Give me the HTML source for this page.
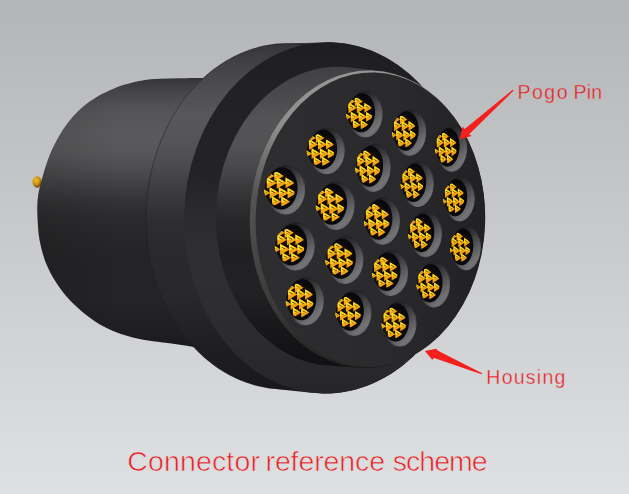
<!DOCTYPE html>
<html><head><meta charset="utf-8"><title>Connector reference scheme</title>
<style>
html,body{margin:0;padding:0;background:#c9cacb;}
body{width:629px;height:494px;overflow:hidden;position:relative;font-family:"Liberation Sans",sans-serif;}
svg{position:absolute;left:0;top:0;display:block;}
.t{position:absolute;color:#ec1c24;white-space:nowrap;line-height:1;}
.s{font-size:19.5px;}
.b{font-size:28.5px;top:447px;-webkit-text-stroke:0.7px #dcddde;}
</style></head><body>
<svg width="629" height="494" viewBox="0 0 629 494">
<defs>
<linearGradient id="bg" gradientUnits="userSpaceOnUse" x1="0" y1="0" x2="0" y2="494"><stop offset="0" stop-color="#b3b5b7"/><stop offset="1" stop-color="#dfe0e1"/></linearGradient>
<linearGradient id="gRear" gradientUnits="userSpaceOnUse" x1="0" y1="78" x2="0" y2="348"><stop offset="0.0" stop-color="#343436"/><stop offset="0.044444444444444446" stop-color="#444446"/><stop offset="0.11851851851851852" stop-color="#545456"/><stop offset="0.2111111111111111" stop-color="#5a5a5c"/><stop offset="0.2851851851851852" stop-color="#565658"/><stop offset="0.34074074074074073" stop-color="#4c4c4e"/><stop offset="0.3962962962962963" stop-color="#404042"/><stop offset="0.45185185185185184" stop-color="#343436"/><stop offset="0.5074074074074074" stop-color="#2c2c2e"/><stop offset="0.5814814814814815" stop-color="#272729"/><stop offset="0.674074074074074" stop-color="#242426"/><stop offset="0.8222222222222222" stop-color="#242426"/><stop offset="0.9518518518518518" stop-color="#1e1e20"/><stop offset="1.0" stop-color="#18181a"/></linearGradient>
<linearGradient id="gRearH" gradientUnits="userSpaceOnUse" x1="37" y1="0" x2="120" y2="0"><stop offset="0" stop-color="#000" stop-opacity="0.12"/><stop offset="1" stop-color="#000" stop-opacity="0"/></linearGradient>
<linearGradient id="gFl" gradientUnits="userSpaceOnUse" x1="0" y1="42" x2="0" y2="393"><stop offset="0.0" stop-color="#343436"/><stop offset="0.05128205128205128" stop-color="#404042"/><stop offset="0.13675213675213677" stop-color="#4e4e50"/><stop offset="0.21082621082621084" stop-color="#58585a"/><stop offset="0.2792022792022792" stop-color="#545456"/><stop offset="0.33618233618233617" stop-color="#4e4e50"/><stop offset="0.39316239316239315" stop-color="#424244"/><stop offset="0.45014245014245013" stop-color="#38383a"/><stop offset="0.5071225071225072" stop-color="#2e2e30"/><stop offset="0.5925925925925926" stop-color="#2a2a2c"/><stop offset="0.7350427350427351" stop-color="#28282a"/><stop offset="0.8490028490028491" stop-color="#202022"/><stop offset="1.0" stop-color="#18181a"/></linearGradient>
<linearGradient id="gBoss" gradientUnits="userSpaceOnUse" x1="0" y1="67" x2="0" y2="367"><stop offset="0.0" stop-color="#404042"/><stop offset="0.11" stop-color="#4c4c4e"/><stop offset="0.17666666666666667" stop-color="#545456"/><stop offset="0.26" stop-color="#525254"/><stop offset="0.32666666666666666" stop-color="#4a4a4c"/><stop offset="0.3933333333333333" stop-color="#3c3c3e"/><stop offset="0.46" stop-color="#2e2e30"/><stop offset="0.5266666666666666" stop-color="#262628"/><stop offset="0.6266666666666667" stop-color="#202022"/><stop offset="0.7433333333333333" stop-color="#222224"/><stop offset="0.8433333333333334" stop-color="#1a1a1c"/><stop offset="1.0" stop-color="#101012"/></linearGradient>
<linearGradient id="gFlFace" gradientUnits="userSpaceOnUse" x1="0" y1="42" x2="0" y2="393"><stop offset="0.0" stop-color="#1e1e20"/><stop offset="0.16524216524216523" stop-color="#222224"/><stop offset="0.39316239316239315" stop-color="#232325"/><stop offset="0.47863247863247865" stop-color="#2a2a2c"/><stop offset="0.5925925925925926" stop-color="#2f2f31"/><stop offset="0.7350427350427351" stop-color="#2e2e30"/><stop offset="0.8774928774928775" stop-color="#2b2b2d"/><stop offset="1.0" stop-color="#262628"/></linearGradient>
<linearGradient id="gFace" gradientUnits="userSpaceOnUse" x1="255" y1="0" x2="486" y2="0"><stop offset="0" stop-color="#2e2e30"/><stop offset="0.6" stop-color="#2a2a2c"/><stop offset="1" stop-color="#212123"/></linearGradient>
<linearGradient id="gCham" gradientUnits="userSpaceOnUse" x1="0" y1="70" x2="0" y2="370"><stop offset="0" stop-color="#969696"/><stop offset="0.2" stop-color="#8e8e8e"/><stop offset="0.3" stop-color="#727272"/><stop offset="0.42" stop-color="#555555"/><stop offset="0.6" stop-color="#484848"/><stop offset="0.8" stop-color="#3a3a3a"/><stop offset="1" stop-color="#202020"/></linearGradient>
<linearGradient id="gWall" x1="0.1" y1="0" x2="0.85" y2="1"><stop offset="0" stop-color="#141416"/><stop offset="0.35" stop-color="#303032"/><stop offset="0.6" stop-color="#525254"/><stop offset="0.85" stop-color="#747476"/><stop offset="1" stop-color="#5e5e60"/></linearGradient>
<linearGradient id="gRim" x1="0.1" y1="0" x2="0.9" y2="1"><stop offset="0" stop-color="#1a1a1c"/><stop offset="0.5" stop-color="#2c2c2e"/><stop offset="0.8" stop-color="#6a6a6c"/><stop offset="1" stop-color="#7c7c7e"/></linearGradient>
<radialGradient id="gPin" cx="0.4" cy="0.35" r="0.7"><stop offset="0" stop-color="#f0bc28"/><stop offset="0.5" stop-color="#d49410"/><stop offset="1" stop-color="#5a3800"/></radialGradient>
<clipPath id="cc"><ellipse cx="0" cy="0" rx="1.04" ry="1.04"/></clipPath>
<g id="crown"><ellipse cx="0" cy="0" rx="1.0" ry="1.0" fill="#140c02"/><g clip-path="url(#cc)"><path d="M-0.820,-1.025L-0.344,-0.780L-0.820,-0.535ZM-0.351,-1.113L0.295,-0.780L-0.351,-0.448ZM-0.856,-0.710L-0.176,-0.360L-0.856,-0.010ZM-0.186,-0.710L0.494,-0.360L-0.186,-0.010ZM0.407,-0.682L1.033,-0.360L0.407,-0.038ZM-1.051,0.030L-0.643,0.240L-1.051,0.450ZM-0.666,-0.110L0.014,0.240L-0.666,0.590ZM-0.046,-0.110L0.634,0.240L-0.046,0.590ZM0.547,-0.082L1.173,0.240L0.547,0.562ZM-0.497,0.445L0.115,0.760L-0.497,1.075ZM0.123,0.445L0.735,0.760L0.123,1.075Z" fill="#f2a314"/><path d="M-0.820,-1.025L-0.463,-0.841L-0.820,-0.743ZM-0.351,-1.113L0.133,-0.863L-0.351,-0.730ZM-0.856,-0.710L-0.346,-0.448L-0.856,-0.307ZM-0.186,-0.710L0.324,-0.448L-0.186,-0.307ZM0.407,-0.682L0.876,-0.441L0.407,-0.312ZM-1.051,0.030L-0.745,0.188L-1.051,0.271ZM-0.666,-0.110L-0.156,0.152L-0.666,0.292ZM-0.046,-0.110L0.464,0.152L-0.046,0.292ZM0.547,-0.082L1.016,0.159L0.547,0.288ZM-0.497,0.445L-0.038,0.681L-0.497,0.807ZM0.123,0.445L0.582,0.681L0.123,0.807Z" fill="#ffdc20"/><path d="M-0.734,-0.883L-0.558,-0.804L-0.582,-0.785L-0.749,-0.858ZM-0.235,-0.920L0.004,-0.813L-0.028,-0.787L-0.254,-0.886ZM-0.733,-0.507L-0.482,-0.395L-0.516,-0.367L-0.754,-0.472ZM-0.063,-0.507L0.188,-0.395L0.154,-0.367L-0.084,-0.472ZM0.520,-0.495L0.751,-0.392L0.720,-0.366L0.501,-0.463ZM-0.978,0.152L-0.827,0.219L-0.847,0.236L-0.990,0.173ZM-0.543,0.093L-0.292,0.205L-0.326,0.233L-0.564,0.128ZM0.077,0.093L0.328,0.205L0.294,0.233L0.056,0.128ZM0.660,0.105L0.891,0.208L0.860,0.234L0.641,0.137ZM-0.387,0.628L-0.160,0.729L-0.191,0.754L-0.405,0.659ZM0.233,0.628L0.460,0.729L0.429,0.754L0.215,0.659Z" fill="#2a1804"/></g></g>
</defs>
<rect width="629" height="494" fill="url(#bg)"/>
<ellipse cx="37.1" cy="182" rx="4.5" ry="5.7" fill="url(#gPin)"/>
<path d="M202.0,78.0C198.3,78.0 187.0,78.1 180.0,78.2C173.0,78.3 166.3,78.4 160.0,78.8C153.7,79.2 148.2,79.5 142.4,80.4C136.6,81.4 130.5,82.8 125.0,84.5C119.5,86.2 114.1,88.4 109.3,90.6C104.5,92.8 100.2,94.9 96.0,97.5C91.8,100.1 87.6,102.8 83.8,106.0C80.0,109.2 76.4,112.7 73.0,116.5C69.6,120.3 66.4,124.5 63.4,129.0C60.4,133.5 57.6,138.4 55.0,143.5C52.4,148.6 50.2,153.4 48.0,159.5C45.8,165.6 43.3,174.1 41.7,180.0C40.1,185.9 38.9,190.3 38.2,195.0C37.5,199.7 37.4,203.3 37.3,208.0C37.2,212.7 37.5,218.2 37.8,223.0C38.1,227.8 38.3,232.0 39.0,236.5C39.7,241.0 40.7,245.8 41.8,250.0C42.9,254.2 44.0,258.2 45.5,262.0C47.0,265.8 48.7,269.5 50.5,273.0C52.3,276.5 54.2,279.6 56.5,283.0C58.8,286.4 61.2,290.1 64.0,293.5C66.8,296.9 69.7,300.0 73.2,303.4C76.7,306.8 80.8,310.6 85.0,314.0C89.2,317.4 94.0,321.0 98.7,323.8C103.4,326.6 107.9,328.9 113.0,331.0C118.1,333.1 123.5,334.9 129.3,336.5C135.1,338.1 141.6,339.4 148.0,340.5C154.4,341.6 161.4,342.2 167.6,343.0C173.8,343.8 179.6,344.7 185.0,345.5C190.4,346.3 197.5,347.6 200.0,348.0L240,348L240,78Z" fill="url(#gRear)"/>
<path d="M202.0,78.0C198.3,78.0 187.0,78.1 180.0,78.2C173.0,78.3 166.3,78.4 160.0,78.8C153.7,79.2 148.2,79.5 142.4,80.4C136.6,81.4 130.5,82.8 125.0,84.5C119.5,86.2 114.1,88.4 109.3,90.6C104.5,92.8 100.2,94.9 96.0,97.5C91.8,100.1 87.6,102.8 83.8,106.0C80.0,109.2 76.4,112.7 73.0,116.5C69.6,120.3 66.4,124.5 63.4,129.0C60.4,133.5 57.6,138.4 55.0,143.5C52.4,148.6 50.2,153.4 48.0,159.5C45.8,165.6 43.3,174.1 41.7,180.0C40.1,185.9 38.9,190.3 38.2,195.0C37.5,199.7 37.4,203.3 37.3,208.0C37.2,212.7 37.5,218.2 37.8,223.0C38.1,227.8 38.3,232.0 39.0,236.5C39.7,241.0 40.7,245.8 41.8,250.0C42.9,254.2 44.0,258.2 45.5,262.0C47.0,265.8 48.7,269.5 50.5,273.0C52.3,276.5 54.2,279.6 56.5,283.0C58.8,286.4 61.2,290.1 64.0,293.5C66.8,296.9 69.7,300.0 73.2,303.4C76.7,306.8 80.8,310.6 85.0,314.0C89.2,317.4 94.0,321.0 98.7,323.8C103.4,326.6 107.9,328.9 113.0,331.0C118.1,333.1 123.5,334.9 129.3,336.5C135.1,338.1 141.6,339.4 148.0,340.5C154.4,341.6 161.4,342.2 167.6,343.0C173.8,343.8 179.6,344.7 185.0,345.5C190.4,346.3 197.5,347.6 200.0,348.0L240,348L240,78Z" fill="url(#gRearH)"/>
<path d="M146.1,217.6L146.1,213.1L146.3,208.6L146.5,204.1L146.9,199.6L147.3,195.1L147.8,190.6L148.5,186.1L149.2,181.7L150.0,177.2L150.9,172.9L151.9,168.5L153.0,164.2L154.2,159.9L155.5,155.6L156.9,151.4L158.3,147.2L159.9,143.1L161.5,139.0L163.2,135.0L165.0,131.0L166.9,127.1L168.9,123.3L170.9,119.5L173.0,115.8L175.2,112.1L177.5,108.5L179.9,105.0L182.3,101.6L184.8,98.3L187.4,95.0L190.0,91.8L192.7,88.7L195.5,85.7L198.3,82.8L201.2,80.0L204.1,77.2L207.1,74.6L210.2,72.0L213.3,69.6L216.5,67.3L219.7,65.0L222.9,62.9L226.2,60.8L229.6,58.9L232.9,57.1L236.3,55.4L239.8,53.8L243.3,52.3L246.8,50.9L250.3,49.7L253.9,48.5L257.5,47.5L261.1,46.6L264.7,45.8L268.3,45.1L272.0,44.5L275.6,44.1L279.3,43.7L283.0,43.5L323.1,42.4L326.9,42.3L330.6,42.3L334.3,42.5L338.0,42.8L341.7,43.1L345.5,43.6L349.1,44.3L352.8,45.0L356.5,45.9L360.1,46.9L363.7,48.0L367.3,49.2L370.9,50.5L374.4,51.9L377.9,53.5L381.4,55.2L384.8,56.9L388.2,58.8L391.5,60.8L394.8,62.9L398.1,65.2L401.3,67.5L404.4,69.9L407.5,72.4L410.6,75.1L413.6,77.8L416.5,80.6L419.4,83.5L422.2,86.5L424.9,89.6L427.6,92.8L430.2,96.1L432.7,99.4L435.1,102.8L437.5,106.3L439.8,109.9L442.0,113.6L444.2,117.3L446.3,121.1L448.2,125.0L450.2,128.9L452.0,132.9L453.7,137.0L455.3,141.1L456.9,145.2L458.4,149.4L459.7,153.7L461.0,158.0L462.2,162.3L463.3,166.7L464.3,171.1L465.2,175.6L466.1,180.1L466.8,184.6L467.4,189.1L467.9,193.6L468.4,198.2L468.7,202.8L468.9,207.3L469.1,211.9L469.1,216.5L469.1,221.1L468.9,225.7L468.7,230.3L468.3,234.9L467.9,239.5L467.3,244.0L466.7,248.6L466.0,253.1L465.1,257.6L464.2,262.0L463.2,266.5L462.1,270.9L460.9,275.2L459.6,279.5L458.2,283.8L456.7,288.1L455.1,292.3L453.5,296.4L451.7,300.5L449.9,304.5L448.0,308.5L446.0,312.4L443.9,316.2L441.8,320.0L439.5,323.7L437.2,327.3L434.8,330.9L432.3,334.4L429.8,337.8L427.2,341.1L424.5,344.3L421.8,347.5L419.0,350.5L416.1,353.5L413.2,356.4L410.2,359.1L407.1,361.8L404.0,364.4L400.8,366.9L397.6,369.3L394.4,371.6L391.1,373.7L387.7,375.8L384.3,377.7L380.9,379.6L377.4,381.3L373.9,383.0L370.4,384.5L366.8,385.9L363.2,387.1L359.6,388.3L356.0,389.4L352.3,390.3L348.6,391.1L345.0,391.8L341.2,392.4L337.5,392.8L333.8,393.2L330.1,393.4L326.3,393.5L322.6,393.5L318.9,393.3L315.2,393.0L311.5,392.7L271.5,388.4L267.8,387.9L264.2,387.3L260.6,386.5L257.0,385.7L253.4,384.7L249.8,383.6L246.3,382.4L242.8,381.1L239.3,379.7L235.9,378.2L232.5,376.5L229.1,374.8L225.8,372.9L222.5,370.9L219.2,368.9L216.0,366.7L212.9,364.4L209.8,362.0L206.7,359.5L203.7,357.0L200.8,354.3L197.9,351.5L195.1,348.6L192.3,345.7L189.6,342.6L187.0,339.5L184.4,336.3L182.0,333.0L179.5,329.6L177.2,326.1L174.9,322.6L172.7,319.0L170.6,315.3L168.6,311.6L166.6,307.8L164.8,303.9L163.0,300.0L161.3,296.0L159.6,291.9L158.1,287.8L156.7,283.7L155.3,279.5L154.0,275.3L152.9,271.0L151.8,266.7L150.8,262.3L149.9,258.0L149.1,253.6L148.4,249.1L147.8,244.7L147.2,240.2L146.8,235.7L146.5,231.2L146.3,226.7L146.1,222.2Z" fill="url(#gFl)"/>
<ellipse cx="286.4" cy="216.3" rx="140.3" ry="172.9" transform="rotate(1.3 286.4 216.3)" fill="none" stroke="#1c1c1e" stroke-width="0.8" opacity="0.6"/>
<ellipse cx="326.6" cy="217.9" rx="142.5" ry="175.6" transform="rotate(1.3 326.6 217.9)" fill="url(#gFlFace)"/>
<path d="M216.0,220.1L216.0,216.2L216.1,212.3L216.2,208.4L216.5,204.5L216.8,200.6L217.2,196.7L217.7,192.8L218.3,189.0L219.0,185.1L219.7,181.3L220.5,177.5L221.4,173.7L222.4,170.0L223.4,166.3L224.6,162.6L225.8,159.0L227.1,155.4L228.4,151.8L229.8,148.3L231.4,144.9L232.9,141.5L234.6,138.1L236.3,134.8L238.1,131.5L239.9,128.3L241.8,125.2L243.8,122.1L245.9,119.1L248.0,116.2L250.1,113.3L252.4,110.5L254.6,107.8L257.0,105.1L259.4,102.5L261.8,100.0L264.3,97.6L266.9,95.3L269.5,93.0L272.1,90.8L274.8,88.8L277.5,86.8L280.3,84.8L283.1,83.0L285.9,81.3L288.8,79.6L291.7,78.1L294.6,76.7L297.6,75.3L300.6,74.0L303.6,72.9L306.6,71.8L309.7,70.9L312.7,70.0L315.8,69.2L318.9,68.6L322.1,68.0L325.2,67.5L328.3,67.2L331.5,66.9L334.6,66.8L337.7,66.7L340.9,66.8L344.0,66.9L347.1,67.2L350.3,67.5L381.3,71.3L384.3,71.8L387.4,72.3L390.4,73.0L393.4,73.8L396.4,74.6L399.4,75.6L402.3,76.6L405.3,77.8L408.2,79.0L411.0,80.4L413.9,81.8L416.7,83.3L419.5,85.0L422.2,86.7L424.9,88.5L427.6,90.4L430.2,92.4L432.8,94.5L435.3,96.6L437.8,98.9L440.2,101.2L442.6,103.6L444.9,106.1L447.2,108.7L449.4,111.3L451.6,114.0L453.7,116.8L455.8,119.6L457.8,122.6L459.7,125.6L461.6,128.6L463.4,131.7L465.1,134.9L466.8,138.1L468.4,141.4L469.9,144.8L471.4,148.2L472.8,151.6L474.1,155.1L475.4,158.6L476.5,162.2L477.6,165.8L478.7,169.5L479.6,173.2L480.5,176.9L481.3,180.6L482.0,184.4L482.6,188.2L483.2,192.0L483.6,195.8L484.0,199.7L484.4,203.6L484.6,207.4L484.8,211.3L484.8,215.2L484.8,219.1L484.7,223.0L484.6,226.9L484.3,230.8L484.0,234.6L483.6,238.5L483.1,242.4L482.5,246.2L481.9,250.0L481.2,253.8L480.4,257.6L479.5,261.3L478.5,265.0L477.5,268.7L476.4,272.4L475.2,276.0L474.0,279.6L472.6,283.1L471.2,286.6L469.8,290.1L468.2,293.5L466.6,296.8L464.9,300.1L463.2,303.3L461.4,306.5L459.5,309.6L457.5,312.7L455.5,315.7L453.5,318.6L451.4,321.5L449.2,324.3L446.9,327.0L444.7,329.6L442.3,332.2L439.9,334.7L437.5,337.1L435.0,339.4L432.4,341.7L429.9,343.8L427.2,345.9L424.6,347.9L421.9,349.8L419.1,351.6L416.3,353.3L413.5,355.0L410.7,356.5L407.8,358.0L404.9,359.3L402.0,360.6L399.0,361.7L396.1,362.8L393.1,363.7L390.0,364.6L387.0,365.4L384.0,366.0L380.9,366.6L377.9,367.0L374.8,367.4L371.7,367.7L368.7,367.8L365.6,367.9L362.5,367.8L359.4,367.7L328.0,365.5L324.9,365.2L321.7,364.9L318.6,364.4L315.5,363.8L312.4,363.2L309.3,362.4L306.3,361.5L303.3,360.6L300.2,359.5L297.3,358.4L294.3,357.1L291.4,355.7L288.5,354.3L285.6,352.7L282.8,351.1L280.0,349.4L277.2,347.6L274.5,345.6L271.8,343.6L269.2,341.6L266.6,339.4L264.0,337.1L261.6,334.8L259.1,332.4L256.7,329.9L254.4,327.3L252.1,324.6L249.9,321.9L247.7,319.1L245.6,316.2L243.6,313.3L241.6,310.3L239.7,307.2L237.9,304.1L236.1,300.9L234.4,297.6L232.8,294.3L231.2,290.9L229.7,287.5L228.3,284.1L226.9,280.5L225.6,277.0L224.4,273.4L223.3,269.8L222.3,266.1L221.3,262.4L220.4,258.6L219.6,254.9L218.9,251.1L218.2,247.3L217.7,243.4L217.2,239.6L216.8,235.7L216.5,231.8L216.2,227.9L216.1,224.0Z" fill="url(#gBoss)"/>
<ellipse cx="367.3" cy="219.2" rx="117.5" ry="148.7" transform="rotate(1.85 367.3 219.2)" fill="url(#gCham)"/>
<ellipse cx="370.4" cy="219.6" rx="114.8" ry="147.2" transform="rotate(1.8 370.4 219.6)" fill="url(#gFace)"/>
<g transform="rotate(3 365.5 114.1)">
<ellipse cx="365.5" cy="114.1" rx="16.6" ry="22.8" fill="url(#gWall)" stroke="url(#gRim)" stroke-width="1"/>
<ellipse cx="361.4" cy="113.0" rx="13.6" ry="19.6" fill="#09090b"/>
</g>
<use href="#crown" transform="translate(359.2 113.3) scale(12.60 15.20)"/>
<g transform="rotate(3 410.2 132.3)">
<ellipse cx="410.2" cy="132.3" rx="15.5" ry="22.9" fill="url(#gWall)" stroke="url(#gRim)" stroke-width="1"/>
<ellipse cx="406.1" cy="131.2" rx="12.5" ry="19.7" fill="#09090b"/>
</g>
<use href="#crown" transform="translate(403.9 131.5) scale(11.50 15.30)"/>
<g transform="rotate(3 452.1 148.8)">
<ellipse cx="452.1" cy="148.8" rx="14.5" ry="22.4" fill="url(#gWall)" stroke="url(#gRim)" stroke-width="1"/>
<ellipse cx="448.0" cy="147.7" rx="11.5" ry="19.2" fill="#09090b"/>
</g>
<use href="#crown" transform="translate(445.8 148.0) scale(10.50 14.80)"/>
<g transform="rotate(3 326.8 150.8)">
<ellipse cx="326.8" cy="150.8" rx="17.4" ry="22.9" fill="url(#gWall)" stroke="url(#gRim)" stroke-width="1"/>
<ellipse cx="322.7" cy="149.7" rx="14.4" ry="19.7" fill="#09090b"/>
</g>
<use href="#crown" transform="translate(320.5 150.0) scale(13.40 15.30)"/>
<g transform="rotate(3 374.0 167.8)">
<ellipse cx="374.0" cy="167.8" rx="16.1" ry="23.6" fill="url(#gWall)" stroke="url(#gRim)" stroke-width="1"/>
<ellipse cx="369.9" cy="166.7" rx="13.1" ry="20.4" fill="#09090b"/>
</g>
<use href="#crown" transform="translate(367.7 167.0) scale(12.10 16.00)"/>
<g transform="rotate(3 418.2 184.1)">
<ellipse cx="418.2" cy="184.1" rx="15.0" ry="22.4" fill="url(#gWall)" stroke="url(#gRim)" stroke-width="1"/>
<ellipse cx="414.1" cy="183.0" rx="12.0" ry="19.2" fill="#09090b"/>
</g>
<use href="#crown" transform="translate(411.9 183.3) scale(11.00 14.80)"/>
<g transform="rotate(3 460.0 199.0)">
<ellipse cx="460.0" cy="199.0" rx="14.2" ry="21.9" fill="url(#gWall)" stroke="url(#gRim)" stroke-width="1"/>
<ellipse cx="455.9" cy="197.9" rx="11.2" ry="18.7" fill="#09090b"/>
</g>
<use href="#crown" transform="translate(453.7 198.2) scale(10.20 14.30)"/>
<g transform="rotate(3 285.8 189.8)">
<ellipse cx="285.8" cy="189.8" rx="18.8" ry="24.3" fill="url(#gWall)" stroke="url(#gRim)" stroke-width="1"/>
<ellipse cx="281.7" cy="188.7" rx="15.8" ry="21.1" fill="#09090b"/>
</g>
<use href="#crown" transform="translate(279.5 189.0) scale(14.80 16.70)"/>
<g transform="rotate(3 336.3 205.6)">
<ellipse cx="336.3" cy="205.6" rx="17.8" ry="23.8" fill="url(#gWall)" stroke="url(#gRim)" stroke-width="1"/>
<ellipse cx="332.2" cy="204.5" rx="14.8" ry="20.6" fill="#09090b"/>
</g>
<use href="#crown" transform="translate(330.0 204.8) scale(13.80 16.20)"/>
<g transform="rotate(3 383.0 221.0)">
<ellipse cx="383.0" cy="221.0" rx="16.4" ry="23.3" fill="url(#gWall)" stroke="url(#gRim)" stroke-width="1"/>
<ellipse cx="378.9" cy="219.9" rx="13.4" ry="20.1" fill="#09090b"/>
</g>
<use href="#crown" transform="translate(376.7 220.2) scale(12.40 15.70)"/>
<g transform="rotate(3 426.1 234.3)">
<ellipse cx="426.1" cy="234.3" rx="15.2" ry="22.4" fill="url(#gWall)" stroke="url(#gRim)" stroke-width="1"/>
<ellipse cx="422.0" cy="233.2" rx="12.2" ry="19.2" fill="#09090b"/>
</g>
<use href="#crown" transform="translate(419.8 233.5) scale(11.20 14.80)"/>
<g transform="rotate(3 466.4 248.1)">
<ellipse cx="466.4" cy="248.1" rx="13.9" ry="21.6" fill="url(#gWall)" stroke="url(#gRim)" stroke-width="1"/>
<ellipse cx="462.3" cy="247.0" rx="10.9" ry="18.4" fill="#09090b"/>
</g>
<use href="#crown" transform="translate(460.1 247.3) scale(9.90 14.00)"/>
<g transform="rotate(3 295.9 246.3)">
<ellipse cx="295.9" cy="246.3" rx="18.3" ry="23.8" fill="url(#gWall)" stroke="url(#gRim)" stroke-width="1"/>
<ellipse cx="291.8" cy="245.2" rx="15.3" ry="20.6" fill="#09090b"/>
</g>
<use href="#crown" transform="translate(289.6 245.5) scale(14.30 16.20)"/>
<g transform="rotate(3 345.5 260.1)">
<ellipse cx="345.5" cy="260.1" rx="17.4" ry="23.3" fill="url(#gWall)" stroke="url(#gRim)" stroke-width="1"/>
<ellipse cx="341.4" cy="259.0" rx="14.4" ry="20.1" fill="#09090b"/>
</g>
<use href="#crown" transform="translate(339.2 259.3) scale(13.40 15.70)"/>
<g transform="rotate(3 391.1 273.1)">
<ellipse cx="391.1" cy="273.1" rx="16.4" ry="22.4" fill="url(#gWall)" stroke="url(#gRim)" stroke-width="1"/>
<ellipse cx="387.0" cy="272.0" rx="13.4" ry="19.2" fill="#09090b"/>
</g>
<use href="#crown" transform="translate(384.8 272.3) scale(12.40 14.80)"/>
<g transform="rotate(3 434.3 284.6)">
<ellipse cx="434.3" cy="284.6" rx="15.2" ry="22.4" fill="url(#gWall)" stroke="url(#gRim)" stroke-width="1"/>
<ellipse cx="430.2" cy="283.5" rx="12.2" ry="19.2" fill="#09090b"/>
</g>
<use href="#crown" transform="translate(428.0 283.8) scale(11.20 14.80)"/>
<g transform="rotate(3 305.9 301.1)">
<ellipse cx="305.9" cy="301.1" rx="17.4" ry="23.8" fill="url(#gWall)" stroke="url(#gRim)" stroke-width="1"/>
<ellipse cx="301.8" cy="300.0" rx="14.4" ry="20.6" fill="#09090b"/>
</g>
<use href="#crown" transform="translate(299.6 300.3) scale(13.40 16.20)"/>
<g transform="rotate(3 354.5 312.9)">
<ellipse cx="354.5" cy="312.9" rx="16.4" ry="22.4" fill="url(#gWall)" stroke="url(#gRim)" stroke-width="1"/>
<ellipse cx="350.4" cy="311.8" rx="13.4" ry="19.2" fill="#09090b"/>
</g>
<use href="#crown" transform="translate(348.2 312.1) scale(12.40 14.80)"/>
<g transform="rotate(3 400.1 323.7)">
<ellipse cx="400.1" cy="323.7" rx="15.9" ry="22.4" fill="url(#gWall)" stroke="url(#gRim)" stroke-width="1"/>
<ellipse cx="396.0" cy="322.6" rx="12.9" ry="19.2" fill="#09090b"/>
</g>
<use href="#crown" transform="translate(393.8 322.9) scale(11.90 14.80)"/>
<path d="M513.6,90.6L512.6,89.8L464.7,129.1L462.8,126.6L459.6,139.3L471.7,136.1L469.1,134.2Z" fill="#f5201e"/>
<path d="M481.5,374.3L482.1,373.3L438.5,350.9L436,348.7L424.9,350.9L432.2,359.8L434.1,357.9Z" fill="#f5201e"/>
</svg>
<div class="t s" id="w1" style="-webkit-text-stroke:0.35px #bbbdbf;left:517.5px;top:82.5px;letter-spacing:1.5px">Pogo</div>
<div class="t s" id="w2" style="-webkit-text-stroke:0.35px #bbbdbf;left:573.6px;top:82.5px;letter-spacing:0.2px">Pin</div>
<div class="t s" id="w3" style="-webkit-text-stroke:0.35px #d5d6d7;left:486.3px;top:368.3px;letter-spacing:1.25px">Housing</div>
<div class="t b" id="w4" style="left:127.2px;letter-spacing:0.15px">Connector</div>
<div class="t b" id="w5" style="left:265.5px;letter-spacing:-0.11px">reference</div>
<div class="t b" id="w6" style="left:392.7px;letter-spacing:-0.97px">scheme</div>
</body></html>
